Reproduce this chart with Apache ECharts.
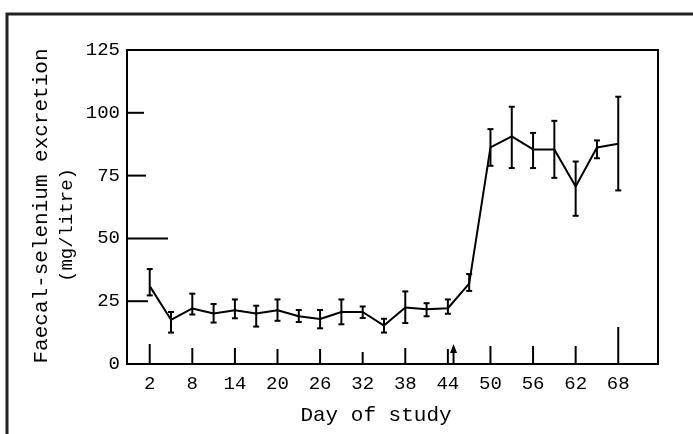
<!DOCTYPE html>
<html><head><meta charset="utf-8">
<script src="https://cdn.jsdelivr.net/npm/echarts@6/dist/echarts.min.js"></script>
<style>html,body{margin:0;padding:0;background:#fff}#c{width:693px;height:434px}</style>
</head><body><div id="c"></div>
<script>
// ---- data ----
const days  = [2,5,8,11,14,17,20,23,26,29,32,35,38,41,44,47,50,53,56,59,62,65,68];
const means = [31.0,17.6,22.1,20.1,21.4,20.1,21.4,19.0,17.9,20.7,20.7,15.3,22.5,21.8,22.2,32.0,86.2,90.6,85.4,85.4,70.7,86.2,87.7];
const upper = [37.8,20.7,28.0,23.9,25.7,23.2,25.7,21.5,21.5,25.7,22.9,18.0,28.9,24.2,25.7,35.8,93.5,102.4,92.0,96.8,80.6,89.0,106.4];
const lower = [27.3,12.5,19.7,16.5,18.2,14.9,17.2,16.7,14.2,15.8,18.3,12.5,16.3,19.0,20.0,29.1,78.9,78.0,78.0,74.1,59.0,81.9,69.1];
const xTickDays = [2,8,14,20,26,32,38,44,50,56,62,68];
const yTickValues = [25,50,75,100];
const arrowDays = [44.8];

// ---- style (pixel lengths of the hand-drawn ticks) ----
const xTickLen = [20,16,16,15,15,12,16,15,18,18,18,37];
const yTickLen = [21,41,19,17];
const FONT = '"Liberation Mono", "Courier New", monospace';
const XMIN = -1.2, XMAX = 73.6;

const chart = echarts.init(document.getElementById('c'), null, {renderer:'canvas'});

const lineData = days.map((d,i)=>[d, means[i]]);
const errData = days.map((d,i)=>[d, lower[i], upper[i]]);
const xTickData = xTickDays.map((d,i)=>[d, 0, i]);
const yTickData = yTickValues.map((v,i)=>[XMIN, v, i]);

chart.setOption({
  animation:false,
  backgroundColor:'#fff',
  grid:{left:127, right:35, top:50, bottom:70, show:true, borderColor:'#000', borderWidth:2, backgroundColor:'transparent'},
  xAxis:{
    type:'value', min:XMIN, max:XMAX,
    splitLine:{show:false},
    axisLine:{show:true, onZero:false, lineStyle:{color:'#000', width:2}},
    axisTick:{show:false},
    axisLabel:{customValues:xTickDays, color:'#000', fontFamily:FONT, fontSize:19, margin:10}
  },
  yAxis:{
    type:'value', min:0, max:125, interval:25,
    splitLine:{show:false},
    axisLine:{show:true, onZero:false, lineStyle:{color:'#000', width:2}},
    axisTick:{show:false},
    axisLabel:{color:'#000', fontFamily:FONT, fontSize:19, margin:7}
  },
  graphic:[
    {type:'rect', shape:{x:7, y:14, width:800, height:500}, style:{fill:'none', stroke:'#222', lineWidth:3}, z:100},
    {type:'text', x:41, y:206, rotation:Math.PI/2,
      style:{text:'Faecal-selenium excretion', font:'21px '+FONT, fill:'#000', textAlign:'center', textVerticalAlign:'middle'}},
    {type:'text', x:67, y:225, rotation:Math.PI/2,
      style:{text:'(mg/litre)', font:'19px '+FONT, fill:'#000', textAlign:'center', textVerticalAlign:'middle'}},
    {type:'text', x:376, y:415,
      style:{text:'Day of study', font:'21px '+FONT, fill:'#000', textAlign:'center', textVerticalAlign:'middle'}}
  ],
  series:[
    {
      type:'line', data:lineData, symbol:'none', z:3,
      lineStyle:{color:'#000', width:2}
    },
    {
      type:'custom', data:errData, z:4,
      renderItem:(params, api)=>{
        const x = api.value(0);
        const pl = api.coord([x, api.value(1)]);
        const ph = api.coord([x, api.value(2)]);
        const w = 3;
        const st = {stroke:'#000', lineWidth:2};
        return {type:'group', children:[
          {type:'line', shape:{x1:pl[0], y1:pl[1], x2:ph[0], y2:ph[1]}, style:st},
          {type:'line', shape:{x1:ph[0]-w, y1:ph[1], x2:ph[0]+w, y2:ph[1]}, style:st},
          {type:'line', shape:{x1:pl[0]-w, y1:pl[1], x2:pl[0]+w, y2:pl[1]}, style:st}
        ]};
      }
    },
    {
      type:'custom', data:xTickData, z:4,
      renderItem:(params, api)=>{
        const p = api.coord([api.value(0), 0]);
        const len = xTickLen[api.value(2)];
        return {type:'line', shape:{x1:p[0], y1:p[1], x2:p[0], y2:p[1]-len}, style:{stroke:'#000', lineWidth:2}};
      }
    },
    {
      type:'custom', data:yTickData, z:4,
      renderItem:(params, api)=>{
        const p = api.coord([api.value(0), api.value(1)]);
        const len = yTickLen[api.value(2)];
        return {type:'line', shape:{x1:p[0], y1:p[1], x2:p[0]+len, y2:p[1]}, style:{stroke:'#000', lineWidth:2}};
      }
    },
    {
      type:'custom', data:arrowDays.map(d=>[d,0]), z:4,
      renderItem:(params, api)=>{
        const p = api.coord([api.value(0), 0]);
        return {type:'group', children:[
          {type:'line', shape:{x1:p[0], y1:p[1], x2:p[0], y2:p[1]-14}, style:{stroke:'#000', lineWidth:2}},
          {type:'polygon', shape:{points:[[p[0],p[1]-20],[p[0]-3.5,p[1]-11],[p[0]+3.5,p[1]-11]]}, style:{fill:'#000'}}
        ]};
      }
    }
  ]
});
</script>
</body></html>
